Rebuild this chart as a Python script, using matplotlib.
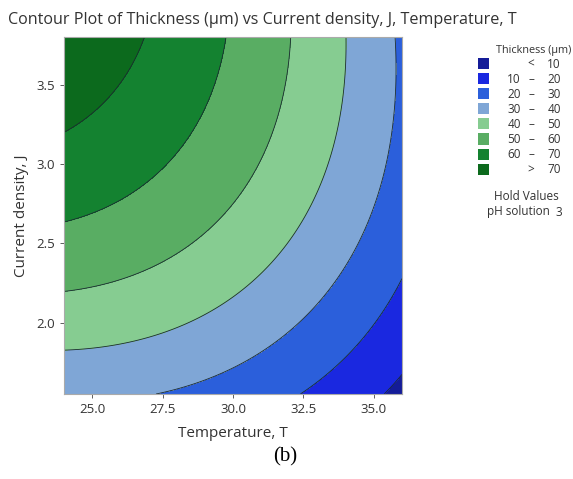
import numpy as np
import matplotlib
matplotlib.use("Agg")
import matplotlib.pyplot as plt
from matplotlib.patches import Rectangle

# Fitted response surface for thickness (um):
# thk = b0 + bT*T + bJ*J + bTT*T^2 + bJJ*J^2 + bTJ*T*J   (pH solution held at 3)
coef_names = ["b0", "bT", "bJ", "bTT", "bJJ", "bTJ"]
coef_values = [-165.441, 9.8101, 69.4421, -0.173665, -5.155703, -0.903368]

temp_range = [24.0, 36.0]
current_range = [1.55, 3.80]

levels = [0, 10, 20, 30, 40, 50, 60, 70, 100]
level_labels = [("", "<", "10"), ("10", "\u2013", "20"), ("20", "\u2013", "30"),
                ("30", "\u2013", "40"), ("40", "\u2013", "50"), ("50", "\u2013", "60"),
                ("60", "\u2013", "70"), ("", ">", "70")]
colors = ["#141c98", "#1a28e0", "#2b5fdb", "#7fa6d6", "#86cc91", "#59ad63",
          "#148230", "#0c6a1d"]

xticks = [25.0, 27.5, 30.0, 32.5, 35.0]
yticks = [2.0, 2.5, 3.0, 3.5]

W, H = 573, 479
plt.rcParams['font.family'] = ['Open Sans', 'DejaVu Sans']

fig = plt.figure(figsize=(W / 100, H / 100), dpi=100)
ax = fig.add_axes([64 / W, 1 - 394 / H, (402 - 64) / W, (394 - 37) / H])

c = dict(zip(coef_names, coef_values))
tt = np.linspace(temp_range[0], temp_range[1], 300)
jj = np.linspace(current_range[0], current_range[1], 300)
TT, JJ = np.meshgrid(tt, jj)
Z = (c["b0"] + c["bT"] * TT + c["bJ"] * JJ + c["bTT"] * TT ** 2
     + c["bJJ"] * JJ ** 2 + c["bTJ"] * TT * JJ)

ax.contourf(TT, JJ, Z, levels=levels, colors=colors)
ax.contour(TT, JJ, Z, levels=levels[1:-1], colors="#1a2a30", linewidths=0.6)

ax.set_xlim(temp_range)
ax.set_ylim(current_range)
ax.set_xticks(xticks)
ax.set_xticklabels([f"{v:.1f}" for v in xticks])
ax.set_yticks(yticks)
ax.set_yticklabels([f"{v:.1f}" for v in yticks])
ax.tick_params(labelsize=9.5, colors="#444444", length=3, width=0.6, labelcolor="#333333")
for s in ax.spines.values():
    s.set_color("#aaaaaa")
    s.set_linewidth(0.8)
ax.set_xlabel("Temperature, T", fontsize=11, color="#333333", labelpad=7)
ax.set_ylabel("Current density, J", fontsize=11, color="#333333", labelpad=5)


def px(x, y):
    return x / W, 1 - y / H


fig.text(*px(8, 20), "Contour Plot of Thickness (\u00b5m) vs Current density, J, Temperature, T",
         fontsize=11.6, color="#333333", va="center", ha="left")
fig.text(*px(285, 457), "(b)", fontsize=15, family="Liberation Serif", ha="center", va="center")

# legend
fig.text(*px(534, 50), "Thickness (\u00b5m)", fontsize=7.8, color="#333333", ha="center", va="center")
for i, (col, (a, d, b)) in enumerate(zip(colors, level_labels)):
    y = 64 + i * 15.1
    x0, y0 = px(478, y + 5)
    fig.add_artist(Rectangle((x0, y0), 11 / W, 11 / H, transform=fig.transFigure,
                             facecolor=col, edgecolor="none"))
    if a:
        fig.text(*px(521, y), a, fontsize=8.5, color="#333333", ha="right", va="center")
    fig.text(*px(531, y), d, fontsize=8.5, color="#333333", ha="center", va="center")
    fig.text(*px(561, y), b, fontsize=8.5, color="#333333", ha="right", va="center")

fig.text(*px(526, 196), "Hold Values", fontsize=8.5, color="#333333", ha="center", va="center")
fig.text(*px(518, 212), "pH solution", fontsize=8.5, color="#333333", ha="center", va="center")
fig.text(*px(562, 212), "3", fontsize=8.5, color="#333333", ha="right", va="center")

fig.savefig("out.png", dpi=100)
